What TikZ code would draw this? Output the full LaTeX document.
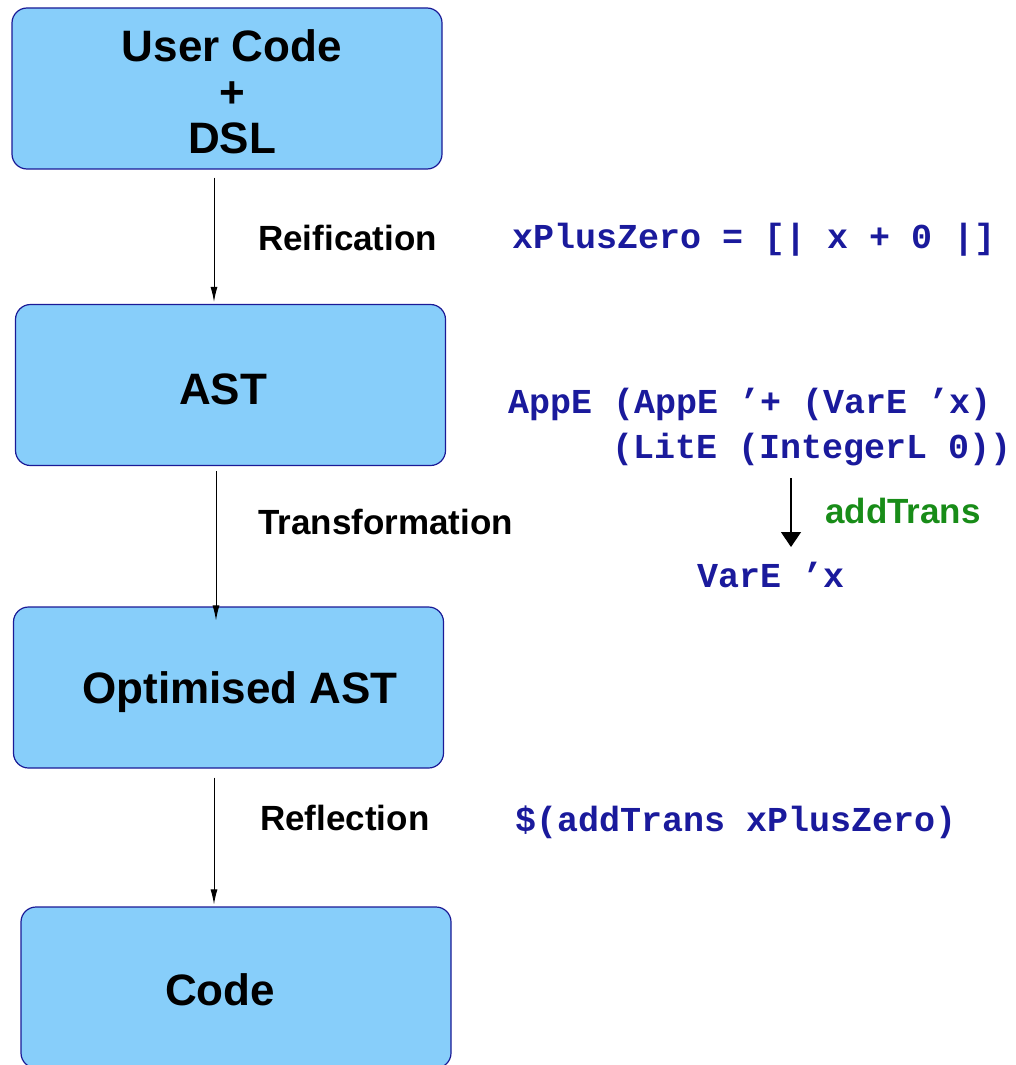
\documentclass[tikz,border=0pt]{standalone}
\usepackage{fontspec}
\setmainfont{Liberation Sans}
\newfontfamily\codefont{Liberation Mono}
\usetikzlibrary{arrows.meta}
\definecolor{skyfill}{RGB}{135, 206, 250}
\definecolor{navyline}{RGB}{26, 26, 150}
\definecolor{codeblue}{RGB}{26, 26, 156}
\definecolor{transgreen}{RGB}{24, 140, 24}

\tikzset{
    stage/.style   = {draw=navyline, fill=skyfill, line width=1.2pt, rounded corners=15pt,
                      minimum width=430pt, minimum height=161pt, inner sep=0pt},
    caption/.style = {align=center, inner sep=0pt, font=\fontsize{44}{45}\selectfont\bfseries},
    phase/.style   = {anchor=base west, inner sep=0pt, font=\fontsize{35}{35}\selectfont\bfseries},
    snippet/.style = {anchor=base west, inner sep=0pt, text=codeblue,
                      font=\fontsize{35}{43}\selectfont\codefont\bfseries},
    flow/.style    = {draw=black, line width=1pt, -{Latex[length=15pt, width=7pt]}},
}

\begin{document}
\begin{tikzpicture}[x=1pt, y=1pt]
            \useasboundingbox                                   (0, 0) rectangle (1015, -1065);
            % the four stages
            \node[stage] (user) at (227.0,  -88.5) {};
            \node[stage] (ast)  at (230.5, -385.0) {};
            \node[stage] (opt)  at (228.5, -687.5) {};
            \node[stage] (code) at (236.0, -987.5) {};
            \node[caption] (usertext) at (232, -92)  {User Code\\[1pt]+\\[1pt]DSL};
            \node[caption] (asttext)  at (223, -389) {AST};
            \node[caption] (opttext)  at (240, -692) {Optimised AST};
            \node[caption] (codetext) at (220, -990) {Code};
            % arrows between them
            \coordinate (lane) at (214, 0);
            \coordinate (lanetwo) at (216, 0);
            \draw[flow] ([yshift=-8pt]user.south -| lane)    -- ([yshift=2pt]ast.north -| lane);
            \draw[flow] ([yshift=-5pt]ast.south -| lanetwo)  -- ([yshift=-14pt]opt.north -| lanetwo);
            \draw[flow] ([yshift=-9pt]opt.south -| lane)     -- ([yshift=2pt]code.north -| lane);
            % step names
            \node[phase] (reify)   at (258, -250) {Reification};
            \node[phase] (transf)  at (258, -534) {Transformation};
            \node[phase] (reflect) at (260, -830) {Reflection};
            % code on the right
            \node[snippet] (quote)  at (512, -248) {xPlusZero = [| x + 0 |]};
            \node[snippet] (appone) at (508, -413) {AppE (AppE ’+ (VarE ’x)};
            \node[snippet] (apptwo) at (612, -458) {(LitE (IntegerL 0))};
            \node[snippet] (varx)   at (697, -587) {VarE ’x};
            \node[snippet] (splice) at (515, -831) {\$(addTrans xPlusZero)};
            \coordinate (rewtop) at (791, -478);
            \coordinate (rewend) at (791, -547);
            \draw[line width=1.4pt, -{Triangle[length=15pt, width=20pt]}] (rewtop) -- (rewend);
            \node[phase, text=transgreen] (rule) at (825, -523) {addTrans};
\end{tikzpicture}
\end{document}
